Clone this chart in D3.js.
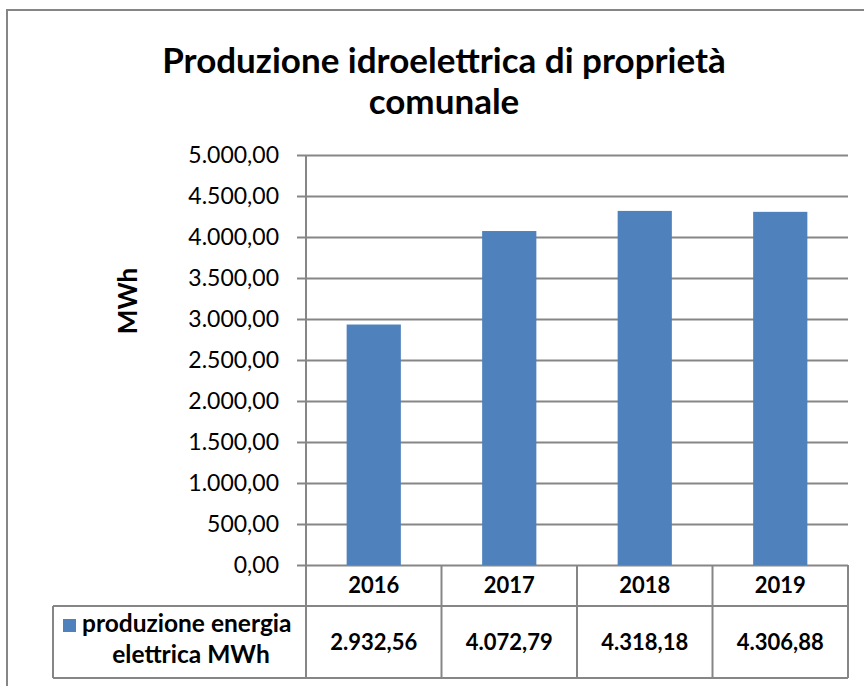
<!DOCTYPE html>
<html>
<head>
<meta charset="utf-8">
<script src="https://cdn.jsdelivr.net/npm/d3@7"></script>
<style>
  body { margin: 0; background: #ffffff; }
  text { font-family: Lato, "Open Sans", sans-serif; fill: #000; }
</style>
</head>
<body>
<div id="chart"></div>
<script>
// data
const years = ["2016", "2017", "2018", "2019"];
const production = [2932.56, 4072.79, 4318.18, 4306.88];
const yTicks = [0, 500, 1000, 1500, 2000, 2500, 3000, 3500, 4000, 4500, 5000];
const seriesName = ["produzione energia", "elettrica MWh"];
const titleLines = ["Produzione idroelettrica di proprietà", "comunale"];

const W = 864, H = 686;
const plot = {left: 306, right: 848, top: 155, bottom: 565};
const gridColor = "#868686";
const barColor = "#4F81BD";

// italian number format 1.234,56
const itFormat = d3.formatLocale({decimal: ",", thousands: ".", grouping: [3], currency: ["€", ""]}).format(",.2f");

const svg = d3.select("#chart").append("svg")
    .attr("width", W)
    .attr("height", H);

// outer chart border (only top and left visible)
svg.append("path")
    .attr("d", `M7,${H} L7,10 L${W},10`)
    .attr("fill", "none")
    .attr("stroke", gridColor)
    .attr("stroke-width", 2);

// title
svg.append("g").selectAll("text")
    .data(titleLines)
    .enter()
    .append("text")
      .attr("x", 444)
      .attr("y", (d, i) => 73 + i * 41)
      .attr("text-anchor", "middle")
      .style("font-size", "35px")
      .style("font-weight", "bold")
      .text(d => d);

// scales
const y = d3.scaleLinear()
    .domain([0, 5000])
    .range([plot.bottom, plot.top]);

const xCell = d3.scaleBand()
    .domain(years)
    .range([plot.left, plot.right])
    .padding(0);

const xBar = d3.scaleBand()
    .domain(years)
    .range([plot.left, plot.right])
    .paddingInner(0.6)
    .paddingOuter(0.3);

// y axis with gridlines
const yAxis = svg.append("g")
    .attr("transform", `translate(${plot.left},0)`)
    .call(d3.axisLeft(y).tickValues(yTicks).tickFormat(itFormat)
        .tickSize(-(plot.right - plot.left)).tickSizeOuter(0).tickPadding(27));
yAxis.select(".domain").remove();
yAxis.selectAll(".tick line")
    .attr("stroke", gridColor)
    .attr("stroke-width", 2)
    .attr("x1", -9);
yAxis.selectAll(".tick text")
    .attr("fill", "#000")
    .style("font-family", "Lato, sans-serif")
    .style("font-size", "23px");

// vertical axis line
svg.append("line")
    .attr("x1", plot.left).attr("x2", plot.left)
    .attr("y1", plot.top).attr("y2", plot.bottom)
    .attr("stroke", gridColor)
    .attr("stroke-width", 2);

// y axis title
svg.append("text")
    .attr("transform", "translate(137,301) rotate(-90)")
    .attr("text-anchor", "middle")
    .style("font-size", "26px")
    .style("font-weight", "bold")
    .text("MWh");

// bars
svg.append("g")
    .selectAll("rect")
    .data(production)
    .enter()
    .append("rect")
      .attr("x", (d, i) => xBar(years[i]))
      .attr("width", xBar.bandwidth())
      .attr("y", d => y(d))
      .attr("height", d => y(0) - y(d))
      .attr("fill", barColor);

// data table
const rowTop = plot.bottom, rowMid = 606, rowBottom = 678, tableLeft = 53;
const table = svg.append("g")
    .attr("fill", "none")
    .attr("stroke", gridColor)
    .attr("stroke-width", 2);
table.append("line").attr("x1", tableLeft).attr("x2", plot.right).attr("y1", rowMid).attr("y2", rowMid);
table.append("line").attr("x1", tableLeft).attr("x2", plot.right).attr("y1", rowBottom).attr("y2", rowBottom);
table.append("line").attr("x1", tableLeft).attr("x2", tableLeft).attr("y1", rowMid).attr("y2", rowBottom);
table.selectAll(".vline")
    .data(years.concat(["end"]))
    .enter()
    .append("line")
      .attr("x1", (d, i) => i < years.length ? xCell(d) : plot.right)
      .attr("x2", (d, i) => i < years.length ? xCell(d) : plot.right)
      .attr("y1", rowTop)
      .attr("y2", rowBottom);

// year labels
svg.append("g").selectAll("text")
    .data(years)
    .enter()
    .append("text")
      .attr("x", d => xCell(d) + xCell.bandwidth() / 2)
      .attr("y", 593)
      .attr("text-anchor", "middle")
      .style("font-size", "22px")
      .style("font-weight", "bold")
      .text(d => d);

// value labels
svg.append("g").selectAll("text")
    .data(production)
    .enter()
    .append("text")
      .attr("x", (d, i) => xCell(years[i]) + xCell.bandwidth() / 2)
      .attr("y", 650)
      .attr("text-anchor", "middle")
      .style("font-size", "22px")
      .style("font-weight", "bold")
      .text(d => itFormat(d));

// legend key + series name
svg.append("rect")
    .attr("x", 63).attr("y", 619)
    .attr("width", 13).attr("height", 13)
    .attr("fill", barColor);
svg.append("g").selectAll("text")
    .data(seriesName)
    .enter()
    .append("text")
      .attr("x", (d, i) => i === 0 ? 82 : 191)
      .attr("y", (d, i) => 632 + i * 31)
      .attr("text-anchor", (d, i) => i === 0 ? "start" : "middle")
      .style("font-size", "24.5px")
      .style("font-weight", "bold")
      .text(d => d);
</script>
</body>
</html>
